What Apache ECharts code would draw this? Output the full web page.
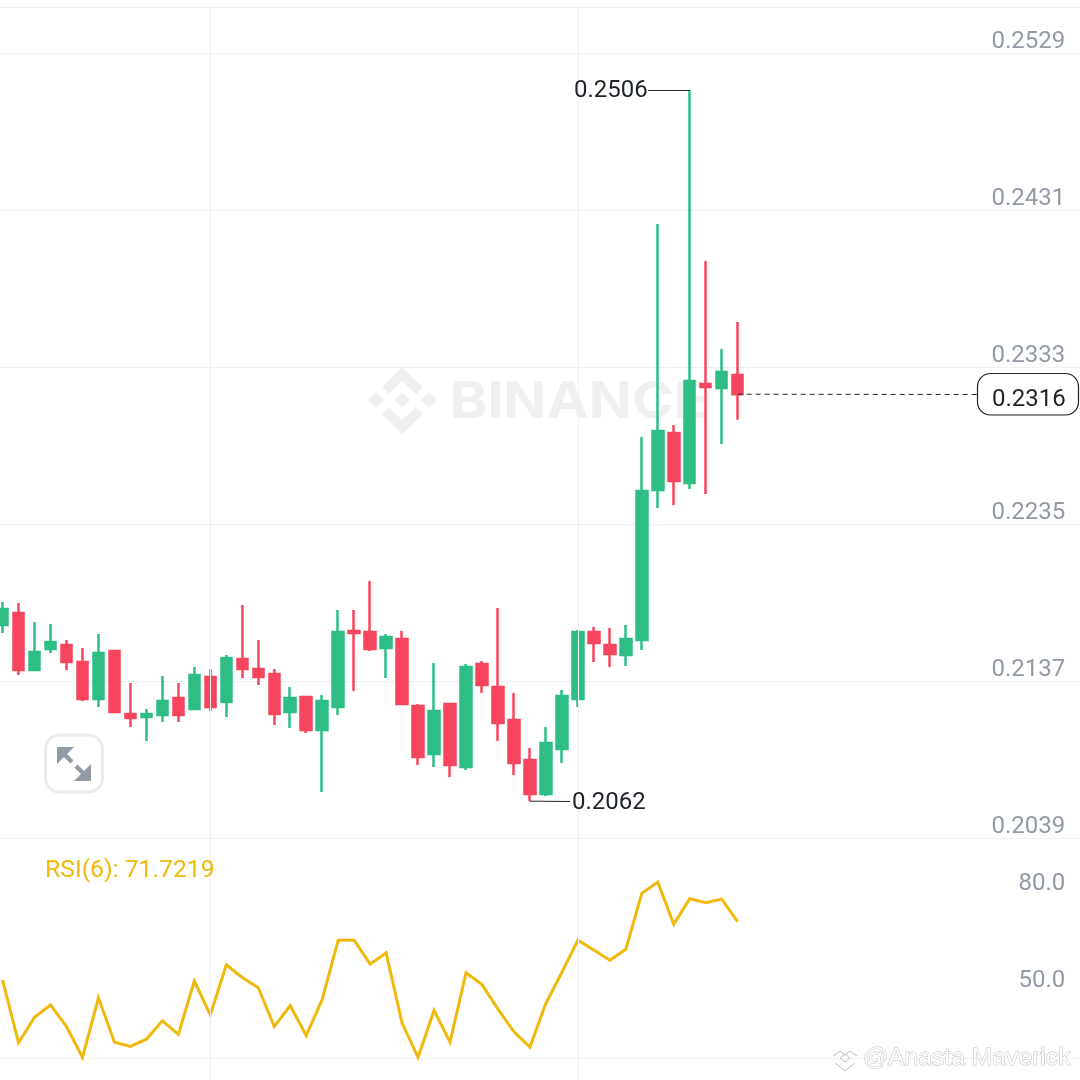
<!DOCTYPE html>
<html><head><meta charset="utf-8">
<style>html,body{margin:0;padding:0;background:#fff}#c{width:1080px;height:1080px}</style>
<script src="https://cdn.jsdelivr.net/npm/echarts@6/dist/echarts.min.js"></script>
</head><body><div id="c"></div>
<script>
const opens =[.21720,.21795,.21439,.21570,.21595,.21489,.21258,.21557,.21164,.21145,.21158,.21264,.21195,.21395,.21239,.21507,.21445,.21414,.21177,.21270,.21064,.21208,.21682,.21676,.21576,.21632,.21214,.20914,.21226,.20833,.21476,.21333,.21127,.20877,.20665,.20946,.21258,.21676,.21595,.21532,.21626,.22562,.22918,.22606,.23224,.23199,.23280];
const closes=[.21819,.21439,.21551,.21613,.21489,.21258,.21545,.21177,.21139,.21164,.21245,.21158,.21407,.21208,.21514,.21445,.21395,.21164,.21264,.21064,.21245,.21676,.21670,.21570,.21645,.21226,.20896,.21183,.20846,.21457,.21345,.21108,.20858,.20665,.20983,.21276,.21676,.21607,.21539,.21632,.22556,.22931,.22618,.23243,.23205,.23299,.23160];
const lows  =[.21670,.21407,.21439,.21545,.21439,.21245,.21208,.21170,.21083,.20996,.21114,.21114,.21195,.21183,.21145,.21389,.21345,.21095,.21077,.21045,.20677,.21158,.21308,.21557,.21389,.21226,.20846,.20833,.20771,.20815,.21295,.20996,.20783,.20620,.20652,.20858,.21208,.21489,.21457,.21464,.21564,.22450,.22469,.22569,.22537,.22849,.23000];
const highs =[.21863,.21857,.21738,.21726,.21626,.21576,.21663,.21564,.21358,.21195,.21401,.21358,.21457,.21445,.21532,.21844,.21626,.21445,.21333,.21270,.21283,.21813,.21813,.21994,.21663,.21682,.21226,.21482,.21226,.21476,.21495,.21826,.21295,.20952,.21083,.21314,.21688,.21707,.21701,.21720,.22893,.24223,.22968,.25060,.23992,.23442,.23611];
const rsi   =[53.7,34.3,42.2,46.0,39.3,29.8,48.2,34.5,33.2,35.4,41.1,36.9,53.4,42.9,58.4,54.5,51.3,39.3,45.8,36.5,47.7,66.0,66.0,58.6,62.1,40.4,29.8,44.3,34.5,55.9,52.3,44.7,37.7,33.0,46.5,56.1,66.0,63.0,59.8,63.2,80.5,84.0,70.9,78.8,77.6,78.7,71.72];
const priceTicks=[0.2039,0.2137,0.2235,0.2333,0.2431,0.2529];
const rsiTicks=[50,80];
const priceLines=[0.2039,0.2137,0.2235,0.2333,0.2431,0.2529,0.25577];
const rsiLines=[29.6,97.6];
const vLineIdx=[13,36];
const highLabel=0.2506, highIdx=43, lowLabel=0.2062, lowIdx=33, lastPrice=0.2316, lastIdx=46;
const rsiTitle='RSI(6): 71.7219';
const wmMain='BINANCE', wmUser='@Anasta Maverick';

const SLOTS=68;
const cats=Array.from({length:SLOTS},(_,i)=>String(i));
const FONT='Roboto';
const GRID='#EEF0F2', GREEN='#2EBD85', RED='#F6465D', DARK='#1E2329', GRAY='#929AA5', YEL='#F0B90B';
const candles=opens.map((o,i)=>[o,closes[i],lows[i],highs[i]]);
const chart=echarts.init(document.getElementById('c'),null,{renderer:'canvas'});
const yAx=(grid,min,max,ticks,lines,fmt)=>({type:'value',gridIndex:grid,position:'right',min,max,scale:true,
  axisLine:{show:false},
  axisTick:{show:false,customValues:lines},
  splitLine:{show:true,lineStyle:{color:GRID,width:1}},
  axisLabel:{show:true,inside:true,customValues:ticks,margin:16,fontFamily:FONT,fontSize:24,color:GRAY,verticalAlign:'bottom',lineHeight:22,formatter:fmt}});
const vLines=()=>({silent:true,symbol:'none',animation:false,label:{show:false},lineStyle:{color:GRID,width:1,type:'solid'},data:vLineIdx.map(i=>({xAxis:String(i)}))});
chart.setOption({
  animation:false,backgroundColor:'#fff',
  grid:[{left:-5.4,top:7,width:1086.64,height:831,outerBoundsMode:'none'},{left:-5.4,top:838,width:1086.64,height:242,outerBoundsMode:'none'}],
  xAxis:[0,1].map(g=>({type:'category',gridIndex:g,data:cats,boundaryGap:true,axisLine:{show:false},axisTick:{show:false},axisLabel:{show:false},splitLine:{show:false}})),
  yAxis:[yAx(0,0.2039,0.25577,priceTicks,priceLines,v=>(+v).toFixed(4)),yAx(1,22.8,97.6,rsiTicks,rsiLines,v=>(+v).toFixed(1))],
  series:[
    {type:'line',xAxisIndex:0,yAxisIndex:0,data:[],z:1,markLine:vLines()},
    {type:'line',xAxisIndex:1,yAxisIndex:1,data:[],z:1,markLine:vLines()},
    {type:'candlestick',xAxisIndex:0,yAxisIndex:0,data:candles,barWidth:11,z:3,
      itemStyle:{color:GREEN,color0:RED,borderColor:GREEN,borderColor0:RED,borderWidth:2.5},
      markLine:{silent:true,symbol:'none',animation:false,z:4,lineStyle:{color:DARK,width:1,type:'solid'},label:{show:false},data:[
        [{coord:[String(highIdx),highLabel]},{x:648,y:90}],
        [{coord:[String(lowIdx),lowLabel]},{x:570,y:801.5}],
        [{coord:[String(lastIdx),lastPrice]},{x:978,y:394.5,lineStyle:{type:[5,4],color:DARK,width:1}}]
      ]}},
    {type:'line',xAxisIndex:1,yAxisIndex:1,data:rsi,z:3,symbol:'none',showSymbol:false,clip:true,smooth:false,lineStyle:{color:YEL,width:3,join:'miter'}}
  ],
  graphic:{elements:[
    {type:'text',z:8,x:45,y:859,scaleX:1.03,style:{text:rsiTitle,fontFamily:FONT,fontSize:24,fill:YEL}},
    {type:'text',z:0,x:450,y:377,scaleX:1.11,style:{text:wmMain,fontFamily:'Inter',fontWeight:700,fontSize:51,fill:'#EEF0F1'}},
    ...[
      [[402,367],[423,387],[416,394],[402,381],[389,394],[382,387]],
      [[402,434],[423,414],[416,407],[402,420],[389,407],[382,414]],
      [[402,392],[410,400],[402,408],[394,400]],
      [[376,392],[384,400],[376,408],[368,400]],
      [[429,392],[437,400],[429,408],[421,400]]
    ].map(points=>({type:'polygon',z:0,shape:{points},style:{fill:'#EEF0F1'}})),
    {type:'text',z:8,x:574,y:79,style:{text:highLabel.toFixed(4),fontFamily:FONT,fontSize:24,fill:DARK}},
    {type:'text',z:8,x:572,y:791,style:{text:lowLabel.toFixed(4),fontFamily:FONT,fontSize:24,fill:DARK}},
    {type:'rect',z:8,shape:{x:977.5,y:373.5,width:101,height:41.5,r:13},style:{fill:'#fff',stroke:DARK,lineWidth:1.2}},
    {type:'text',z:9,x:992,y:388,style:{text:lastPrice.toFixed(4),fontFamily:FONT,fontSize:24,fill:DARK}},
    {type:'rect',z:5,shape:{x:45.5,y:735,width:57,height:57,r:14},style:{fill:'#fff',stroke:'#EAECEF',lineWidth:3}},
    {type:'polygon',z:6,shape:{points:[[57,747],[74,747],[57,764]]},style:{fill:GRAY}},
    {type:'polygon',z:6,shape:{points:[[91,781],[74,781],[91,764]]},style:{fill:GRAY}},
    {type:'line',z:6,shape:{x1:62,y1:752,x2:72,y2:762},style:{stroke:GRAY,lineWidth:4.5}},
    {type:'line',z:6,shape:{x1:76,y1:766,x2:86,y2:776},style:{stroke:GRAY,lineWidth:4.5}},
    {type:'text',z:7,x:863,y:1046,style:{text:wmUser,fontFamily:'Liberation Sans',fontSize:24.7,fill:'#fff',stroke:'#BDBDBD',lineWidth:1}},
    {type:'polyline',z:7,shape:{points:[[833,1056],[840,1051],[845,1055],[850,1051],[857,1056]]},style:{stroke:'#BDBDBD',fill:null,lineWidth:1}},
    {type:'polyline',z:7,shape:{points:[[840,1058],[845,1054],[850,1058],[845,1062],[840,1058]]},style:{stroke:'#BDBDBD',fill:null,lineWidth:1}},
    {type:'polyline',z:7,shape:{points:[[835,1063],[845,1071],[855,1063]]},style:{stroke:'#BDBDBD',fill:null,lineWidth:1}}
  ]}
});
</script></body></html>
